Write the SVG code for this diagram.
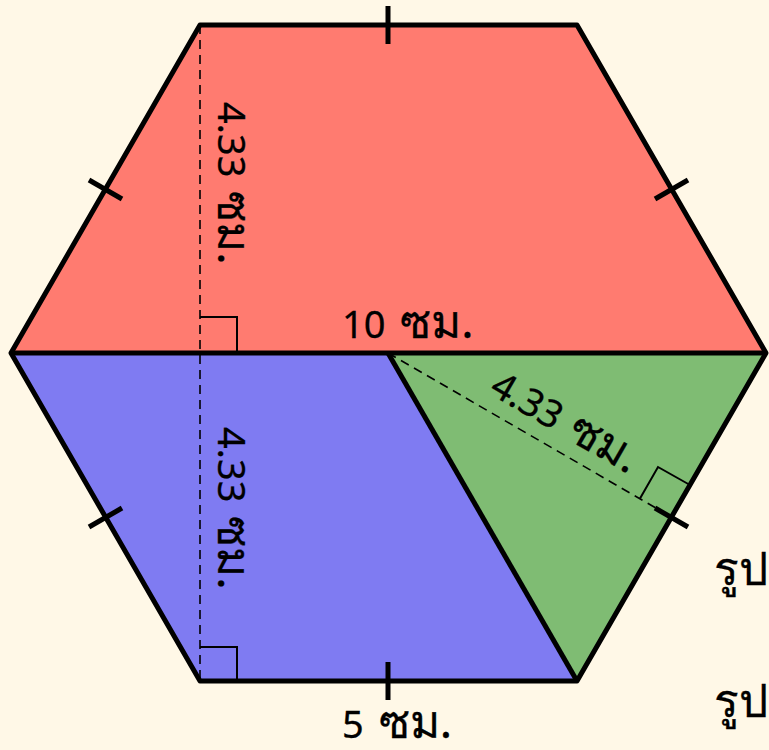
<svg xmlns="http://www.w3.org/2000/svg" width="769" height="750" viewBox="0 0 769 750">
<style>
.edge{stroke:#000;stroke-width:5;fill:none;stroke-linejoin:round}
.tick{stroke:#000;stroke-width:5}
.dash{stroke:#000;stroke-width:1.6;stroke-dasharray:9,6;fill:none}
.ra{stroke:#000;stroke-width:2;fill:none}
.lbl{font-family:"Noto Sans","DejaVu Sans",sans-serif;font-size:38px;fill:#000;stroke:#000;stroke-width:0.3}
.th{font-size:46px}
</style>
<rect width="769" height="750" fill="#FFF8E7"/>
<g id="red"><polygon points="11,353 200,25 577,25 766,353" fill="#FF7B70"/></g>
<g id="blue"><polygon points="11,353 388,353 577,681 200,681" fill="#7F7BF2"/></g>
<g id="green"><polygon points="388,353 766,353 577,681" fill="#7FBC73"/></g>
<g id="connectors">
<line class="dash" x1="200" y1="25" x2="200" y2="681"/>
<line class="dash" x1="388" y1="353" x2="671.5" y2="517"/>
<polyline class="ra" points="200,317 237,317 237,353"/>
<polyline class="ra" points="200,647 237,647 237,681"/>
<polyline class="ra" points="640,498.5 658,467 690,485"/>
<polygon class="edge" points="11,353 200,25 577,25 766,353 577,681 200,681"/>
<line class="edge" x1="11" y1="353" x2="766" y2="353"/>
<line class="edge" x1="388" y1="353" x2="577" y2="681"/>
<line class="tick" x1="388" y1="6" x2="388" y2="44"/>
<line class="tick" x1="388" y1="662" x2="388" y2="700"/>
<line class="tick" x1="89" y1="180" x2="122" y2="199"/>
<line class="tick" x1="688" y1="180" x2="655" y2="199"/>
<line class="tick" x1="89" y1="527" x2="122" y2="508"/>
<line class="tick" x1="688" y1="527" x2="655" y2="508"/>
</g>
<g id="labels">
<text class="lbl" transform="translate(218,102) rotate(90)">4.33 <tspan class="th" dx="4">ซม.</tspan></text>
<text class="lbl" transform="translate(218,427) rotate(90)">4.33 <tspan class="th" dx="4">ซม.</tspan></text>
<text class="lbl" x="342" y="338">10 <tspan class="th" dx="5">ซม.</tspan></text>
<text class="lbl" transform="translate(488,393) rotate(30)">4.33 <tspan class="th" dx="4">ซม.</tspan></text>
<text class="lbl" x="342" y="738">5 <tspan class="th" dx="5">ซม.</tspan></text>
<text class="lbl th" x="714" y="585">รูป</text>
<text class="lbl th" x="714" y="717">รูป</text>
</g>
</svg>
